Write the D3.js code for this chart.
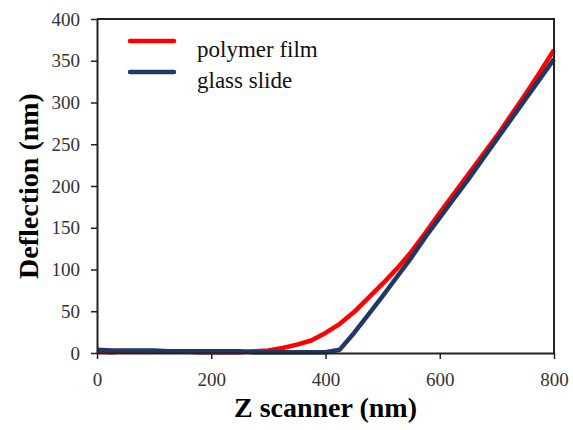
<html>
<head>
<meta charset="utf-8">
<script src="https://cdn.jsdelivr.net/npm/d3@7"></script>
<style>
  body { margin: 0; background: #fff; }
</style>
</head>
<body>
<svg id="chart" width="573" height="430" xmlns="http://www.w3.org/2000/svg">
  <text x="325.5" y="417" text-anchor="middle" font-family="Liberation Serif" font-weight="bold" font-size="28">Z scanner (nm)</text>
  <text transform="translate(38,186) rotate(-90)" text-anchor="middle" font-family="Liberation Serif" font-weight="bold" font-size="28">Deflection (nm)</text>
</svg>
<script>
// Z scanner positions (nm)
var zScanner = [0, 25, 50, 75, 100, 125, 150, 175, 200, 225, 250, 275, 300, 325, 350, 375, 400,
  425, 450, 475, 500, 525, 550, 575, 600, 625, 650, 675, 700, 725, 750, 775, 800];

// deflection (nm)
var polymerFilm = [2, 1, 2, 2, 2, 2, 2, 1, 1, 1, 1, 2, 3, 6, 10, 15, 24,
  35, 49, 66, 83, 101, 121, 144, 168, 191, 214, 237, 260, 285, 310, 336, 363];
var glassSlide = [4, 3, 3, 3, 3, 2, 2, 2, 2, 2, 2, 1, 1, 1, 1, 1, 1,
  4, 24, 46, 68, 91, 114, 139, 162, 185, 208, 232, 256, 280, 304, 328, 352];

var seriesNames = ['polymer film', 'glass slide'];
var seriesColors = ['#ff0000', '#1f3864'];

var xTicks = [0, 200, 400, 600, 800];
var yTicks = [0, 50, 100, 150, 200, 250, 300, 350, 400];

var width = 573,
  height = 430,
  margin = {top: 19, right: 19, bottom: 77, left: 97};

var fontName = 'Liberation Serif';

var svg = d3.select('#chart');

var x = d3.scaleLinear().domain([0, 800]).range([margin.left, width - margin.right]);
var y = d3.scaleLinear().domain([0, 400]).range([height - margin.bottom, margin.top]);

// data lines
var line = d3.line()
  .x((d, i) => x(zScanner[i]))
  .y(d => y(d));

svg.selectAll('.series')
  .data([polymerFilm, glassSlide])
  .join('path')
  .attr('class', 'series')
  .attr('d', d => line(d))
  .attr('fill', 'none')
  .attr('stroke', (d, i) => seriesColors[i])
  .attr('stroke-width', 4.5)
  .attr('stroke-linejoin', 'round');

// axes
var xAxis = svg.append('g')
  .attr('transform', 'translate(0,' + y(0) + ')')
  .call(d3.axisBottom(x).tickValues(xTicks).tickSize(6).tickSizeOuter(0).tickPadding(14));

var yAxis = svg.append('g')
  .attr('transform', 'translate(' + x(0) + ',0)')
  .call(d3.axisLeft(y).tickValues(yTicks).tickSize(6).tickSizeOuter(0).tickPadding(11));

[xAxis, yAxis].forEach(g => {
  g.attr('font-family', fontName).attr('font-size', 19);
  g.select('.domain').attr('stroke', '#222').attr('stroke-width', 2);
  g.selectAll('.tick line').attr('stroke', '#222').attr('stroke-width', 1.5);
  g.selectAll('.tick text').attr('fill', '#333');
});

// top and right frame
svg.append('path')
  .attr('d', 'M' + x(0) + ',' + y(400) + 'H' + x(800) + 'V' + y(0))
  .attr('fill', 'none')
  .attr('stroke', '#222')
  .attr('stroke-width', 2);

// legend
var legend = svg.selectAll('.legend')
  .data(seriesNames)
  .join('g')
  .attr('class', 'legend')
  .attr('transform', (d, i) => 'translate(130,' + (41 + i * 31) + ')');

legend.append('line')
  .attr('x1', 0).attr('x2', 44)
  .attr('stroke', (d, i) => seriesColors[i])
  .attr('stroke-width', 4.5)
  .attr('stroke-linecap', 'round');

legend.append('text')
  .attr('x', 67)
  .attr('y', 16)
  .attr('font-family', fontName)
  .attr('font-size', 23)
  .attr('fill', '#111')
  .text(d => d);
</script>
</body>
</html>
